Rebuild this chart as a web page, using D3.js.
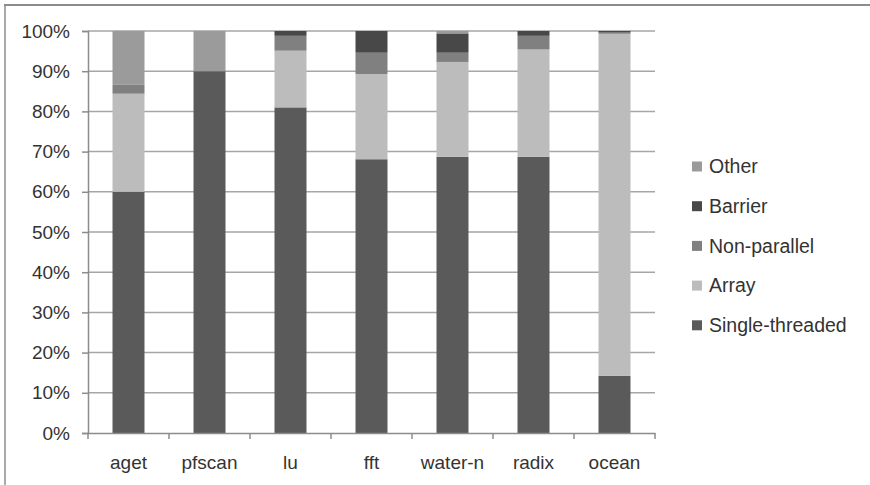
<!DOCTYPE html>
<html><head><meta charset="utf-8">
<script src="https://cdn.jsdelivr.net/npm/d3@7"></script>
<style>body{margin:0;background:#fff}text{font-family:"Liberation Sans",Arial,sans-serif;fill:#333}</style>
</head><body><svg id="c" width="870" height="485"></svg>
<script>
const categories = ["aget","pfscan","lu","fft","water-n","radix","ocean"];
const seriesNames = ["Single-threaded","Array","Non-parallel","Barrier","Other"];
const singleThreaded = [60, 90, 81, 68.1, 68.7, 68.7, 14.2];
const arrayVals      = [24.4, 0, 14.1, 21.2, 23.6, 26.7, 85.1];
const nonParallel    = [2.2, 0, 3.7, 5.3, 2.3, 3.4, 0.3];
const barrier        = [0, 0, 1.2, 5.4, 4.8, 1.2, 0.4];
const other          = [13.4, 10, 0, 0, 0.6, 0, 0];
const yTicks = [0,10,20,30,40,50,60,70,80,90,100];
const colors = {"Single-threaded":"#5a5a5a","Array":"#bcbcbc","Non-parallel":"#808080","Barrier":"#484848","Other":"#9b9b9b"};

const rows = categories.map((c,i)=>({cat:c,"Single-threaded":singleThreaded[i],"Array":arrayVals[i],"Non-parallel":nonParallel[i],"Barrier":barrier[i],"Other":other[i]}));
const stacked = d3.stack().keys(seriesNames)(rows);

const svg = d3.select("#c");
svg.append("line").attr("x1",4).attr("x2",870).attr("y1",5).attr("y2",5).attr("stroke","#8c8c8c").attr("stroke-width",2);
svg.append("line").attr("x1",5).attr("x2",5).attr("y1",5).attr("y2",485).attr("stroke","#8c8c8c").attr("stroke-width",1.5);

const L=88, R=655, T=31, B=433;
const x = d3.scaleBand().domain(categories).range([L,R]).paddingInner(0.605).paddingOuter(0.3025);
const xb = d3.scaleBand().domain(categories).range([L,R]);
const y = d3.scaleLinear().domain([0,100]).range([B,T]);

svg.append("g").selectAll("line").data(yTicks.filter(t=>t>0)).join("line")
  .attr("x1",L).attr("x2",R).attr("y1",d=>y(d)).attr("y2",d=>y(d))
  .attr("stroke","#a6a6a6").attr("stroke-width",1.5);

svg.append("g").selectAll("g").data(stacked).join("g").attr("fill",d=>colors[d.key])
  .selectAll("rect").data(d=>d).join("rect")
  .attr("x",d=>x(d.data.cat)).attr("width",x.bandwidth())
  .attr("y",d=>y(d[1])).attr("height",d=>Math.max(0,y(d[0])-y(d[1])));

const ya = svg.append("g").attr("transform",`translate(${L},0)`)
  .call(d3.axisLeft(y).tickValues(yTicks).tickFormat(d=>d+"%").tickSizeOuter(0).tickSize(6).tickPadding(12));
ya.select(".domain").attr("stroke","#8c8c8c").attr("stroke-width",1.5);
ya.selectAll(".tick line").attr("stroke","#8c8c8c").attr("stroke-width",1.5);
ya.selectAll("text").attr("font-size",19).attr("fill","#333");

const xa = svg.append("g").attr("transform",`translate(0,${B})`)
  .call(d3.axisBottom(xb).tickSize(0).tickPadding(23).tickSizeOuter(0));
xa.select(".domain").attr("stroke","#8c8c8c").attr("stroke-width",1.5);
xa.selectAll("text").attr("font-size",19).attr("fill","#333");
xa.selectAll(".bt").data(categories).join("line").attr("class","bt")
  .attr("x1",d=>xb(d)).attr("x2",d=>xb(d)).attr("y1",0).attr("y2",6)
  .attr("stroke","#8c8c8c").attr("stroke-width",1.5);
xa.append("line").attr("x1",R).attr("x2",R).attr("y1",0).attr("y2",6).attr("stroke","#8c8c8c").attr("stroke-width",1.5);

const legendOrder = seriesNames.slice().reverse();
const lg = svg.append("g").selectAll("g").data(legendOrder).join("g")
  .attr("transform",(d,i)=>`translate(692,${166.5+i*39.7})`);
lg.append("rect").attr("x",0).attr("y",-5).attr("width",10).attr("height",10).attr("fill",d=>colors[d]);
lg.append("text").attr("x",17).attr("y",0).attr("dy","0.35em").attr("font-size",19.5).text(d=>d);
</script></body></html>
